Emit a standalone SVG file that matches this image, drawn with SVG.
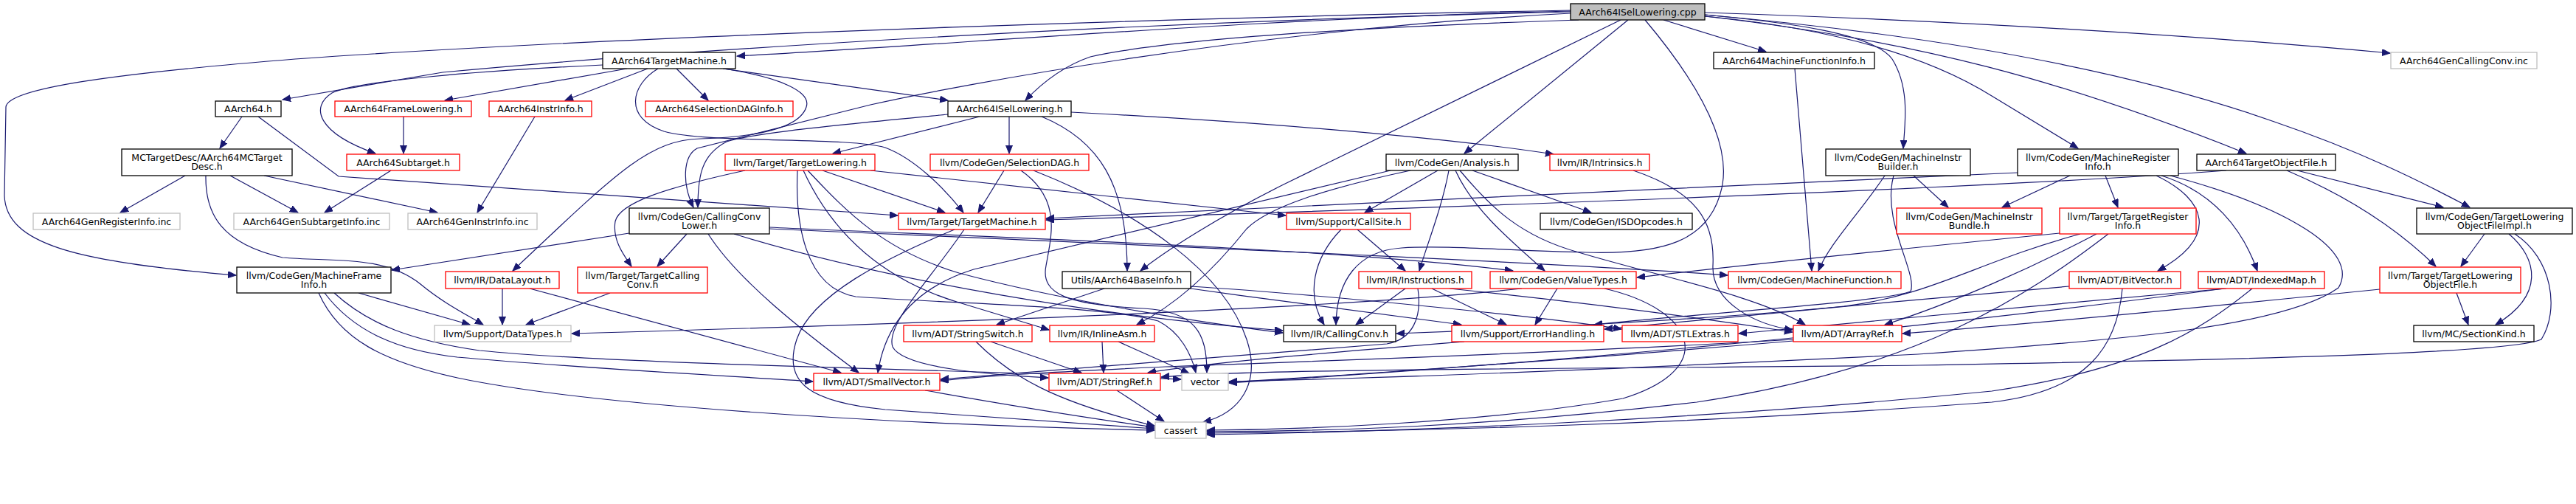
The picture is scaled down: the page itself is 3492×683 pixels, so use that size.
<svg xmlns="http://www.w3.org/2000/svg" width="3492" height="683" viewBox="0 0 3492 683">
<style>
.bg{fill:#fff}
.nd rect{fill:#fff;stroke:#000;stroke-width:1.3}
.nd.r rect{stroke:#ff0000}
.nd.g rect{stroke:#bfbfbf}
.nd.root rect{fill:#bfbfbf;stroke:#000}
.nd text{font-family:"DejaVu Sans","Liberation Sans",sans-serif;font-size:12.5px;text-anchor:middle;fill:#000}
#edges path{fill:none;stroke:#191970;stroke-width:1.2;marker-end:url(#a)}
</style>
<defs>
<marker id="a" markerWidth="12" markerHeight="10" refX="11" refY="4.5" orient="auto" markerUnits="userSpaceOnUse">
<path d="M0,0 L11,4.5 L0,9 z" fill="#191970" stroke="#191970" stroke-width="1"/>
</marker>
</defs>
<rect class="bg" x="0" y="0" width="3492" height="683"/>
<g id="edges">
<!-- from cpp -->
<path d="M2129,14 C1700,22 900,45 400,80 C150,100 10,120 8,145 L6,265 C8,330 100,355 320,373"/>
<path d="M2129,16 C1500,30 900,70 600,98 L383,135"/>
<path d="M2129,15 C1700,25 1300,60 999,76"/>
<path d="M2140,27 C1900,35 1600,50 1478,77 C1440,90 1410,115 1390,136"/>
<path d="M2129,18 C1700,40 1300,115 1180,142 L945,201 C925,212 925,250 940,281"/>
<path d="M2197,27 L1740,250 C1650,295 1580,340 1546,367"/>
<path d="M2207,27 L1985,208"/>
<path d="M2230,27 C2300,110 2345,190 2335,250 C2320,330 2250,345 2150,342 C2050,340 1960,332 1900,336 C1840,340 1812,380 1811,440"/>
<path d="M2255,27 L2394,70"/>
<path d="M2311,20 C2420,30 2540,45 2565,80 C2590,120 2582,170 2580,201"/>
<path d="M2311,22 C2500,40 2620,80 2700,130 L2817,201"/>
<path d="M2311,22 C2600,55 2800,110 3045,208"/>
<path d="M2311,20 C2650,50 2900,100 3083,165 C3200,205 3280,245 3348,281"/>
<path d="M2311,17 C2700,30 3000,50 3240,72"/>
<!-- AArch64TargetMachine.h -->
<path d="M850,93 L603,136"/>
<path d="M878,93 L766,136"/>
<path d="M917,93 L960,136"/>
<path d="M817,88 C650,96 480,110 450,126 C420,145 430,180 509,208"/>
<path d="M980,93 L1285,136"/>
<path d="M980,93 C1060,105 1100,125 1093,145 C1085,170 1040,185 950,188 C880,190 840,230 695,367"/>
<path d="M892,93 C855,115 845,160 900,178 C960,195 1150,185 1200,200 C1240,215 1280,255 1306,288"/>
<!-- AArch64ISelLowering.h -->
<path d="M1328,158 L1129,208"/>
<path d="M1368,158 L1368,208"/>
<path d="M1452,152 C1700,165 1950,185 2106,209"/>
<path d="M1412,158 C1490,190 1528,250 1528,367"/>
<path d="M1285,155 C1150,168 1020,180 985,192 C950,210 946,240 946,281"/>
<!-- TargetLowering -->
<path d="M1115,231 L1281,288"/>
<path d="M1180,231 C1400,255 1600,278 1743,292"/>
<path d="M1010,231 C900,255 840,275 834,300 C830,325 845,345 856,361"/>
<path d="M1081,231 C1078,300 1090,390 1160,402 C1300,412 1500,415 1570,435 C1600,450 1615,480 1621,505"/>
<path d="M1095,231 C1150,290 1200,340 1300,370 C1450,410 1650,440 1739,451"/>
<path d="M1089,231 C1130,320 1200,380 1300,410 C1350,425 1390,437 1422,447"/>
<!-- SelectionDAG -->
<path d="M1361,231 L1326,288"/>
<path d="M1384,231 C1440,270 1425,320 1418,360 C1410,400 1450,413 1550,418 C1620,422 1636,450 1636,505"/>
<path d="M1401,231 C1550,290 1660,370 1690,460 C1710,520 1680,560 1631,572"/>
<!-- llvm TargetMachine.h -->
<path d="M1307,311 C1260,380 1200,440 1210,470 C1225,500 1350,508 1421,512"/>
<path d="M1294,311 C1200,350 1100,400 1080,460 C1060,520 1100,545 1200,555 C1350,565 1480,575 1565,581"/>
<!-- CallingConvLower -->
<path d="M853,316 L531,366"/>
<path d="M931,317 L891,361"/>
<path d="M960,317 C1000,380 1090,450 1164,505"/>
<path d="M995,317 C1200,380 1500,430 1739,448"/>
<path d="M1043,308 C1300,320 1800,335 2051,367"/>
<path d="M1043,310 C1500,330 2100,355 2342,373"/>
<!-- DataLayout, TargetCallingConv -->
<path d="M681,391 L681,440"/>
<path d="M718,391 L1140,505"/>
<path d="M827,397 L713,440"/>
<!-- MCTargetDesc -->
<path d="M251,238 L163,288"/>
<path d="M312,238 L404,288"/>
<path d="M358,238 L593,288"/>
<path d="M279,238 C278,290 300,330 383,349 C450,355 520,345 570,385 C600,410 630,425 655,440"/>
<!-- AArch64.h -->
<path d="M328,158 L298,201"/>
<path d="M350,158 L459,239 C600,250 900,270 1217,292"/>
<!-- small -->
<path d="M547,158 L547,208"/>
<path d="M530,231 L440,288"/>
<path d="M725,158 L647,288"/>
<!-- MachineFrameInfo -->
<path d="M486,397 L637,440"/>
<path d="M440,397 C480,450 540,475 620,484 C800,500 1000,510 1102,517"/>
<path d="M453,397 C500,440 560,462 650,475 C850,495 1300,500 1601,514"/>
<path d="M432,397 C460,460 520,490 620,512 C800,550 1200,575 1565,583"/>
<!-- BaseInfo -->
<path d="M1497,391 L1351,440"/>
<path d="M1614,388 C1800,400 2100,430 2198,446"/>
<path d="M1614,391 C1750,410 1900,430 1981,440"/>
<!-- StringSwitch, InlineAsm, StringRef, SmallVector -->
<path d="M1343,463 L1466,505"/>
<path d="M1323,463 C1370,510 1430,545 1565,577"/>
<path d="M1494,463 L1496,505"/>
<path d="M1516,463 L1612,506"/>
<path d="M1514,529 L1578,571"/>
<path d="M1254,529 C1400,555 1500,570 1565,579"/>
<!-- Analysis -->
<path d="M1885,231 C1750,262 1550,310 1320,365 C1240,390 1200,440 1190,505"/>
<path d="M1912,231 C1800,255 1720,280 1690,310 C1650,360 1600,410 1541,440"/>
<path d="M1949,231 L1850,288"/>
<path d="M1964,231 C1955,280 1935,330 1924,367"/>
<path d="M1973,231 C1995,280 2040,320 2094,367"/>
<path d="M1996,231 L2157,288"/>
<path d="M1979,231 C2020,280 2060,320 2140,342 C2250,375 2380,400 2447,440"/>
<!-- Intrinsics -->
<path d="M2214,231 C2300,260 2325,300 2322,360 C2320,410 2380,440 2430,447"/>
<!-- CallSite -->
<path d="M1818,311 C1780,350 1770,400 1795,440"/>
<path d="M1840,311 L1905,367"/>
<!-- Instructions -->
<path d="M1905,391 L1838,440"/>
<path d="M1941,391 L2042,440"/>
<path d="M1965,391 C2150,410 2300,430 2430,450"/>
<path d="M1922,391 C1928,430 1915,460 1880,466 C1700,480 1450,500 1275,514"/>
<!-- ValueTypes -->
<path d="M2111,391 L2081,440"/>
<path d="M2063,391 C1800,420 1200,440 775,452"/>
<path d="M2175,391 C2300,420 2330,500 2200,540 C2000,575 1750,582 1636,583"/>
<!-- ErrorHandling -->
<path d="M1985,463 C1800,478 1650,490 1556,505"/>
<!-- MachineInstrBuilder -->
<path d="M2555,238 C2520,290 2480,330 2465,367"/>
<path d="M2594,238 L2641,281"/>
<path d="M2567,238 C2550,300 2600,370 2590,395 C2550,410 2300,425 2161,440"/>
<!-- MachineFunctionInfo -->
<path d="M2433,93 L2456,367"/>
<!-- MachineRegisterInfo -->
<path d="M2735,234 C2300,255 1800,275 1418,296"/>
<path d="M2806,238 L2714,281"/>
<path d="M2854,238 L2871,281"/>
<path d="M2923,238 C2990,270 3010,320 2925,367"/>
<path d="M2930,238 C3000,260 3040,310 3060,367"/>
<path d="M2942,238 C3100,280 3200,340 3170,390 C3100,440 2900,460 2600,480 C2200,500 1900,512 1666,517"/>
<!-- TargetRegisterInfo -->
<path d="M2792,316 C2600,335 2400,355 2219,376"/>
<path d="M2820,317 C2680,355 2620,400 2500,415 C2300,435 2000,448 1893,452"/>
<path d="M2842,317 C2760,360 2650,410 2555,440"/>
<path d="M2858,317 C2750,400 2600,500 2300,545 C2000,580 1800,584 1636,585"/>
<!-- BitVector -->
<path d="M2805,388 C2600,405 2350,430 2175,446"/>
<path d="M2877,391 C2870,470 2830,530 2700,545 C2300,575 1900,585 1636,587"/>
<!-- IndexedMap -->
<path d="M3018,391 C2800,410 2500,440 2357,452"/>
<path d="M3015,391 C2800,420 2300,480 1666,519"/>
<path d="M3053,391 C2980,450 2900,500 2700,530 C2300,570 1900,585 1636,589"/>
<!-- TargetObjectFile -->
<path d="M3018,231 C2700,255 2000,280 1418,298"/>
<path d="M3114,231 L3312,281"/>
<path d="M3100,231 C3180,265 3250,310 3302,361"/>
<!-- TLOFImpl -->
<path d="M3368,317 L3336,361"/>
<path d="M3401,317 C3440,350 3450,400 3383,440"/>
<path d="M3409,317 C3460,350 3470,420 3445,460 C3400,480 3000,488 2600,495 C2100,500 1700,500 1574,511"/>
<!-- TLOF -->
<path d="M3330,397 L3346,440"/>
<path d="M3226,392 C3000,415 2750,440 2579,452"/>
<!-- ArrayRef -->
<path d="M2431,460 C2100,480 1700,492 1580,497 C1450,503 1350,508 1275,516"/>
<path d="M2431,462 C2100,490 1800,510 1666,518"/>
</g>
<g id="n_cpp" class="nd root"><rect x="2129" y="5" width="182" height="22"/><text x="2220" y="20.5">AArch64ISelLowering.cpp</text></g>
<g id="n_a64" class="nd"><rect x="292" y="137" width="89" height="21"/><text x="336.5" y="152">AArch64.h</text></g>
<g id="n_tm" class="nd"><rect x="817" y="71" width="180" height="22"/><text x="907" y="86.5">AArch64TargetMachine.h</text></g>
<g id="n_isel" class="nd"><rect x="1285" y="137" width="167" height="21"/><text x="1368.5" y="152">AArch64ISelLowering.h</text></g>
<g id="n_mfinfo" class="nd"><rect x="2323" y="71" width="218" height="22"/><text x="2432" y="86.5">AArch64MachineFunctionInfo.h</text></g>
<g id="n_tof" class="nd"><rect x="2978" y="209" width="188" height="22"/><text x="3072" y="224.5">AArch64TargetObjectFile.h</text></g>
<g id="n_gencc" class="nd g"><rect x="3241" y="71" width="198" height="22"/><text x="3340" y="86.5">AArch64GenCallingConv.inc</text></g>
<g id="n_baseinfo" class="nd"><rect x="1440" y="368" width="174" height="23"/><text x="1527" y="384">Utils/AArch64BaseInfo.h</text></g>
<g id="n_analysis" class="nd"><rect x="1879" y="209" width="179" height="22"/><text x="1968.5" y="224.5">llvm/CodeGen/Analysis.h</text></g>
<g id="n_cclower" class="nd"><rect x="853" y="282" width="190" height="35"/><text x="948" y="297.5">llvm/CodeGen/CallingConv</text><text x="948" y="310">Lower.h</text></g>
<g id="n_mframeinfo" class="nd"><rect x="321" y="362" width="209" height="35"/><text x="425.5" y="377.5">llvm/CodeGen/MachineFrame</text><text x="425.5" y="390">Info.h</text></g>
<g id="n_mibuilder" class="nd"><rect x="2475" y="202" width="196" height="36"/><text x="2573" y="217.5">llvm/CodeGen/MachineInstr</text><text x="2573" y="230">Builder.h</text></g>
<g id="n_mri" class="nd"><rect x="2735" y="202" width="218" height="36"/><text x="2844" y="217.5">llvm/CodeGen/MachineRegister</text><text x="2844" y="230">Info.h</text></g>
<g id="n_tlofimpl" class="nd"><rect x="3276" y="282" width="211" height="35"/><text x="3381.5" y="297.5">llvm/CodeGen/TargetLowering</text><text x="3381.5" y="310">ObjectFileImpl.h</text></g>
<g id="n_callingconv" class="nd"><rect x="1740" y="441" width="152" height="22"/><text x="1816" y="456.5">llvm/IR/CallingConv.h</text></g>
<g id="n_mctargetdesc" class="nd"><rect x="165" y="202" width="231" height="36"/><text x="280.5" y="217.5">MCTargetDesc/AArch64MCTarget</text><text x="280.5" y="230">Desc.h</text></g>
<g id="n_framelowering" class="nd r"><rect x="454" y="137" width="185" height="21"/><text x="546.5" y="152">AArch64FrameLowering.h</text></g>
<g id="n_instrinfo" class="nd r"><rect x="663" y="137" width="139" height="21"/><text x="732.5" y="152">AArch64InstrInfo.h</text></g>
<g id="n_seldaginfo" class="nd r"><rect x="875" y="137" width="200" height="21"/><text x="975" y="152">AArch64SelectionDAGInfo.h</text></g>
<g id="n_subtarget" class="nd r"><rect x="470" y="209" width="153" height="22"/><text x="546.5" y="224.5">AArch64Subtarget.h</text></g>
<g id="n_genreg" class="nd g"><rect x="45" y="289" width="199" height="22"/><text x="144.5" y="304.5">AArch64GenRegisterInfo.inc</text></g>
<g id="n_gensub" class="nd g"><rect x="317" y="289" width="211" height="22"/><text x="422.5" y="304.5">AArch64GenSubtargetInfo.inc</text></g>
<g id="n_geninstr" class="nd g"><rect x="553" y="289" width="175" height="22"/><text x="640.5" y="304.5">AArch64GenInstrInfo.inc</text></g>
<g id="n_datalayout" class="nd r"><rect x="604" y="368" width="154" height="23"/><text x="681" y="384">llvm/IR/DataLayout.h</text></g>
<g id="n_targetmachine" class="nd r"><rect x="1218" y="289" width="199" height="22"/><text x="1317.5" y="304.5">llvm/Target/TargetMachine.h</text></g>
<g id="n_targetlowering" class="nd r"><rect x="983" y="209" width="203" height="22"/><text x="1084.5" y="224.5">llvm/Target/TargetLowering.h</text></g>
<g id="n_selectiondag" class="nd r"><rect x="1261" y="209" width="215" height="22"/><text x="1368.5" y="224.5">llvm/CodeGen/SelectionDAG.h</text></g>
<g id="n_intrinsics" class="nd r"><rect x="2101" y="209" width="135" height="22"/><text x="2168.5" y="224.5">llvm/IR/Intrinsics.h</text></g>
<g id="n_tcc" class="nd r"><rect x="783" y="362" width="176" height="35"/><text x="871" y="377.5">llvm/Target/TargetCalling</text><text x="871" y="390">Conv.h</text></g>
<g id="n_datatypes" class="nd g"><rect x="589" y="441" width="185" height="22"/><text x="681.5" y="456.5">llvm/Support/DataTypes.h</text></g>
<g id="n_smallvector" class="nd r"><rect x="1103" y="506" width="171" height="23"/><text x="1188.5" y="522">llvm/ADT/SmallVector.h</text></g>
<g id="n_stringswitch" class="nd r"><rect x="1225" y="441" width="174" height="22"/><text x="1312" y="456.5">llvm/ADT/StringSwitch.h</text></g>
<g id="n_inlineasm" class="nd r"><rect x="1423" y="441" width="142" height="22"/><text x="1494" y="456.5">llvm/IR/InlineAsm.h</text></g>
<g id="n_stringref" class="nd r"><rect x="1422" y="506" width="151" height="23"/><text x="1497.5" y="522">llvm/ADT/StringRef.h</text></g>
<g id="n_vector" class="nd g"><rect x="1602" y="506" width="63" height="23"/><text x="1633.5" y="522">vector</text></g>
<g id="n_cassert" class="nd g"><rect x="1566" y="572" width="69" height="22"/><text x="1600.5" y="587.5">cassert</text></g>
<g id="n_callsite" class="nd r"><rect x="1744" y="289" width="168" height="22"/><text x="1828" y="304.5">llvm/Support/CallSite.h</text></g>
<g id="n_isdopcodes" class="nd"><rect x="2088" y="289" width="206" height="22"/><text x="2191" y="304.5">llvm/CodeGen/ISDOpcodes.h</text></g>
<g id="n_instructions" class="nd r"><rect x="1842" y="368" width="153" height="23"/><text x="1918.5" y="384">llvm/IR/Instructions.h</text></g>
<g id="n_valuetypes" class="nd r"><rect x="2020" y="368" width="198" height="23"/><text x="2119" y="384">llvm/CodeGen/ValueTypes.h</text></g>
<g id="n_errorhandling" class="nd r"><rect x="1968" y="441" width="206" height="22"/><text x="2071" y="456.5">llvm/Support/ErrorHandling.h</text></g>
<g id="n_stlextras" class="nd r"><rect x="2199" y="441" width="157" height="22"/><text x="2277.5" y="456.5">llvm/ADT/STLExtras.h</text></g>
<g id="n_mibundle" class="nd r"><rect x="2571" y="282" width="197" height="35"/><text x="2669.5" y="297.5">llvm/CodeGen/MachineInstr</text><text x="2669.5" y="310">Bundle.h</text></g>
<g id="n_tri" class="nd r"><rect x="2792" y="282" width="185" height="35"/><text x="2884.5" y="297.5">llvm/Target/TargetRegister</text><text x="2884.5" y="310">Info.h</text></g>
<g id="n_machinefunction" class="nd r"><rect x="2343" y="368" width="234" height="23"/><text x="2460" y="384">llvm/CodeGen/MachineFunction.h</text></g>
<g id="n_bitvector" class="nd r"><rect x="2805" y="368" width="151" height="23"/><text x="2880.5" y="384">llvm/ADT/BitVector.h</text></g>
<g id="n_arrayref" class="nd r"><rect x="2431" y="441" width="147" height="22"/><text x="2504.5" y="456.5">llvm/ADT/ArrayRef.h</text></g>
<g id="n_indexedmap" class="nd r"><rect x="2980" y="368" width="171" height="23"/><text x="3065.5" y="384">llvm/ADT/IndexedMap.h</text></g>
<g id="n_tlof" class="nd r"><rect x="3226" y="362" width="191" height="35"/><text x="3321.5" y="377.5">llvm/Target/TargetLowering</text><text x="3321.5" y="390">ObjectFile.h</text></g>
<g id="n_sectionkind" class="nd"><rect x="3272" y="441" width="163" height="22"/><text x="3353.5" y="456.5">llvm/MC/SectionKind.h</text></g>
</svg>
